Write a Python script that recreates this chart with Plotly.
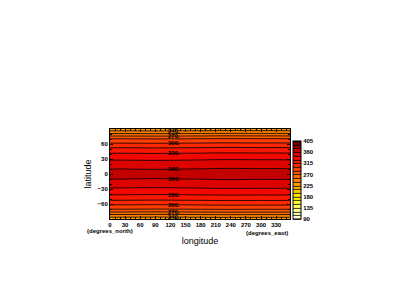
import numpy as np
import plotly.graph_objects as go

# zonal-mean temperature profile
lat = [-90, -85, -80, -75, -70, -60, -50, -40, -30, -20, -10, 0,
       10, 20, 30, 40, 50, 60, 70, 75, 80, 85, 90]
temp_profile = [232, 243, 258, 273, 286, 303, 319, 332, 343, 352, 360, 366,
                360, 352, 343, 332, 319, 303, 286, 273, 258, 243, 232]
# small longitudinal anomaly
lon = [0, 30, 60, 90, 120, 150, 180, 210, 240, 270, 300, 330, 357.5]
lon_anom = [0.0, 0.0, -0.3, -0.5, -0.3, 0.0, 0.3, 0.8, 1.0, 0.8, 0.6, 0.8, 0.3]

levels_start, levels_end, levels_step = 90, 405, 15
cbar_ticks = [90, 135, 180, 225, 270, 315, 360, 405]
label_levels = [360, 330, 300, 270, 240]
x_ticks = list(range(0, 360, 30))
y_ticks = [-60, -30, 0, 30, 60]

z = np.add.outer(np.array(temp_profile, float), np.array(lon_anom, float))

colorscale = [
    [0.00, "#ffffe6"],
    [0.12, "#ffff99"],
    [0.25, "#ffff00"],
    [0.38, "#ffc000"],
    [0.48, "#ff8c00"],
    [0.58, "#ff6000"],
    [0.68, "#ff2c00"],
    [0.78, "#f50800"],
    [0.88, "#c40000"],
    [1.00, "#5a0000"],
]

font_family = "Liberation Sans"
small_bold = dict(size=6, family=font_family, color="black", weight="bold")

fig = go.Figure()
fig.add_trace(go.Contour(
    x=lon, y=lat, z=z,
    zmin=levels_start, zmax=levels_end, zauto=False,
    autocontour=False,
    contours=dict(start=levels_start, end=levels_end, size=levels_step,
                  coloring="fill", showlabels=False),
    line=dict(color="black", width=0.8),
    colorscale=colorscale,
    colorbar=dict(
        x=1.017, xanchor="left", xpad=0,
        y=0, yanchor="bottom", ypad=0,
        len=0.87, lenmode="fraction",
        thickness=8, thicknessmode="pixels",
        outlinecolor="black", outlinewidth=1,
        tickvals=cbar_ticks, ticks="",
        tickfont=small_bold,
    ),
))

# contour labels (positions derived from the profile)
north_lat = lat[lat.index(0):]
north_t = temp_profile[lat.index(0):]
t_asc = north_t[::-1]
lat_desc = north_lat[::-1]
for lvl in label_levels:
    yl = float(np.interp(lvl, t_asc, lat_desc))
    for sgn in (1, -1):
        fig.add_annotation(x=128, y=sgn * yl, text=f"{lvl}.", showarrow=False,
                           font=small_bold, xref="x", yref="y")

fig.add_annotation(x=-0.14, y=-0.13, xref="paper", yref="paper", xanchor="left",
                   yanchor="middle", text="(degrees_north)", showarrow=False,
                   font=small_bold)
fig.add_annotation(x=1.0, y=-0.15, xref="paper", yref="paper", xanchor="right",
                   yanchor="middle", text="(degrees_east)", showarrow=False,
                   font=small_bold)

axis_common = dict(showline=True, linecolor="black", linewidth=1, mirror="allticks",
                   ticks="inside", ticklen=3, tickcolor="black", showgrid=False,
                   zeroline=False, tickfont=small_bold)
fig.update_xaxes(range=[0, 357.5], tickvals=x_ticks,
                 minor=dict(ticks="inside", ticklen=2, dtick=10, tickcolor="black",
                            tickwidth=0.6),
                 title=dict(text="longitude", standoff=10,
                            font=dict(size=9, family=font_family, color="black")),
                 **axis_common)
fig.update_yaxes(range=[-90, 90], tickvals=y_ticks,
                 minor=dict(ticks="inside", ticklen=2, dtick=10, tickcolor="black",
                            tickwidth=0.6),
                 title=dict(text="latitude", standoff=4,
                            font=dict(size=9, family=font_family, color="black")),
                 **axis_common)

fig.update_layout(
    width=400, height=283,
    margin=dict(l=110, r=110, t=129, b=64, pad=0),
    paper_bgcolor="white", plot_bgcolor="white",
    showlegend=False,
)
fig.write_html("out.html")
